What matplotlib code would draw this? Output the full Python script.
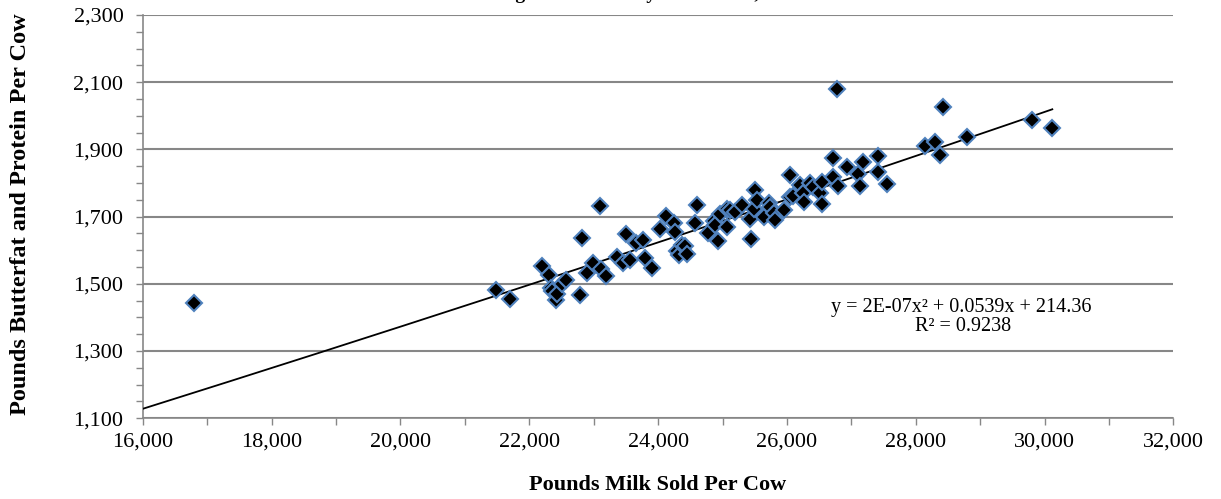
import matplotlib
matplotlib.use("Agg")
import matplotlib.pyplot as plt
from matplotlib.ticker import MultipleLocator, FixedLocator, FuncFormatter
import numpy as np

# Milk sold vs. butterfat + protein per cow, one point per herd
milk_lbs = [
    16800, 21490, 21700, 22190, 22310, 22330, 22350, 22420, 22430, 22500,
    22570, 22790, 22815, 22890, 22990, 23100, 23110, 23195, 23355, 23450,
    23500, 23560, 23660, 23770, 23790, 23900, 24030, 24130, 24240, 24265,
    24290, 24330, 24370, 24420, 24445, 24575, 24600, 24780, 24860, 24885,
    24935, 24960, 25065, 25065, 25116, 25195, 25300, 25430, 25440, 25482,
    25505, 25530, 25640, 25715, 25738, 25793, 25819, 25948, 26040, 26052,
    26100, 26202, 26250, 26259, 26357, 26400, 26520, 26539, 26550, 26720,
    26722, 26773, 26797, 26928, 27110, 27134, 27188, 27420, 27420, 27551,
    28145, 28300, 28380, 28420, 28800, 29810, 30120,
]
components_lbs = [
    1443, 1482, 1455, 1553, 1526, 1488, 1477, 1452, 1470, 1498,
    1511, 1466, 1635, 1531, 1561, 1732, 1543, 1522, 1580, 1561,
    1648, 1570, 1620, 1630, 1578, 1548, 1663, 1702, 1680, 1655,
    1597, 1585, 1615, 1612, 1588, 1682, 1735, 1650, 1688, 1675,
    1628, 1709, 1670, 1724, 1719, 1714, 1734, 1694, 1632, 1724,
    1780, 1749, 1699, 1739, 1729, 1712, 1690, 1719, 1825, 1759,
    1762, 1794, 1769, 1744, 1799, 1788, 1769, 1804, 1738, 1818,
    1875, 2079, 1791, 1848, 1828, 1791, 1863, 1833, 1880, 1797,
    1910, 1923, 1882, 2025, 1938, 1987, 1965,
]

# Second-order polynomial trendline as reported on the chart
trend_coef = [2e-07, 0.0539, 214.36]
trend_equation = "y = 2E-07x\u00b2 + 0.0539x + 214.36"
trend_r2 = "R\u00b2 = 0.9238"

x_ticks = list(range(16000, 32001, 2000))
y_ticks = list(range(1100, 2301, 200))

plt.rcParams["font.family"] = ["Liberation Serif", "DejaVu Serif"]

fig = plt.figure(figsize=(12.21, 4.99), dpi=100)
ax = fig.add_axes([0.117, 0.162, 0.844, 0.808])

grid_color = "#878787"
ax.set_xlim(x_ticks[0], x_ticks[-1])
ax.set_ylim(y_ticks[0], y_ticks[-1])
ax.yaxis.set_major_locator(FixedLocator(y_ticks))
ax.yaxis.set_minor_locator(MultipleLocator(50))
ax.xaxis.set_major_locator(FixedLocator(x_ticks))
ax.xaxis.set_minor_locator(MultipleLocator(1000))
ax.yaxis.set_major_formatter(FuncFormatter(lambda v, p: f"{int(v):,}"))
ax.xaxis.set_major_formatter(FuncFormatter(lambda v, p: f"{int(v):,}"))
ax.yaxis.grid(True, which="major", color=grid_color, linewidth=1.5)
ax.set_axisbelow(True)

for side in ("top", "right"):
    ax.spines[side].set_visible(False)
for side in ("left", "bottom"):
    ax.spines[side].set_color(grid_color)
    ax.spines[side].set_linewidth(1.2)

ax.tick_params(axis="both", which="both", direction="out", color=grid_color,
               width=1.0, labelsize=16, labelcolor="black")
ax.tick_params(axis="x", which="major", length=5, pad=5)
ax.tick_params(axis="y", which="major", length=5, pad=9)
ax.tick_params(axis="both", which="minor", length=5)

# Trendline over the span of the data
tx = np.linspace(x_ticks[0], max(milk_lbs), 200)
ty = np.polyval(trend_coef, tx)
ax.plot(tx, ty, color="black", linewidth=1.3, zorder=3)

ax.plot(milk_lbs, components_lbs, linestyle="none", marker="D", markersize=8.6,
        markerfacecolor="black", markeredgecolor="#4F81BD",
        markeredgewidth=1.5, zorder=4)

ax.text(28700, 1430, trend_equation, ha="center", va="center", fontsize=14.5)
ax.text(28730, 1372, trend_r2, ha="center", va="center", fontsize=14.5)

ax.set_xlabel("Pounds Milk Sold Per Cow", fontsize=16, fontweight="bold")
ax.xaxis.set_label_coords(0.5, -0.14)
ax.set_ylabel("Pounds Butterfat and Protein Per Cow", fontsize=17.5,
              fontweight="bold")
ax.yaxis.set_label_coords(-0.109, 0.505)

# Chart title sits above the top edge of the image
fig.text(0.52, 1.0 + 1.0 / 499, "Average Solids Sold by Each Farm, 2013",
         ha="center", va="baseline", fontsize=14, fontweight="bold")

fig.savefig("out.png", dpi=100)
